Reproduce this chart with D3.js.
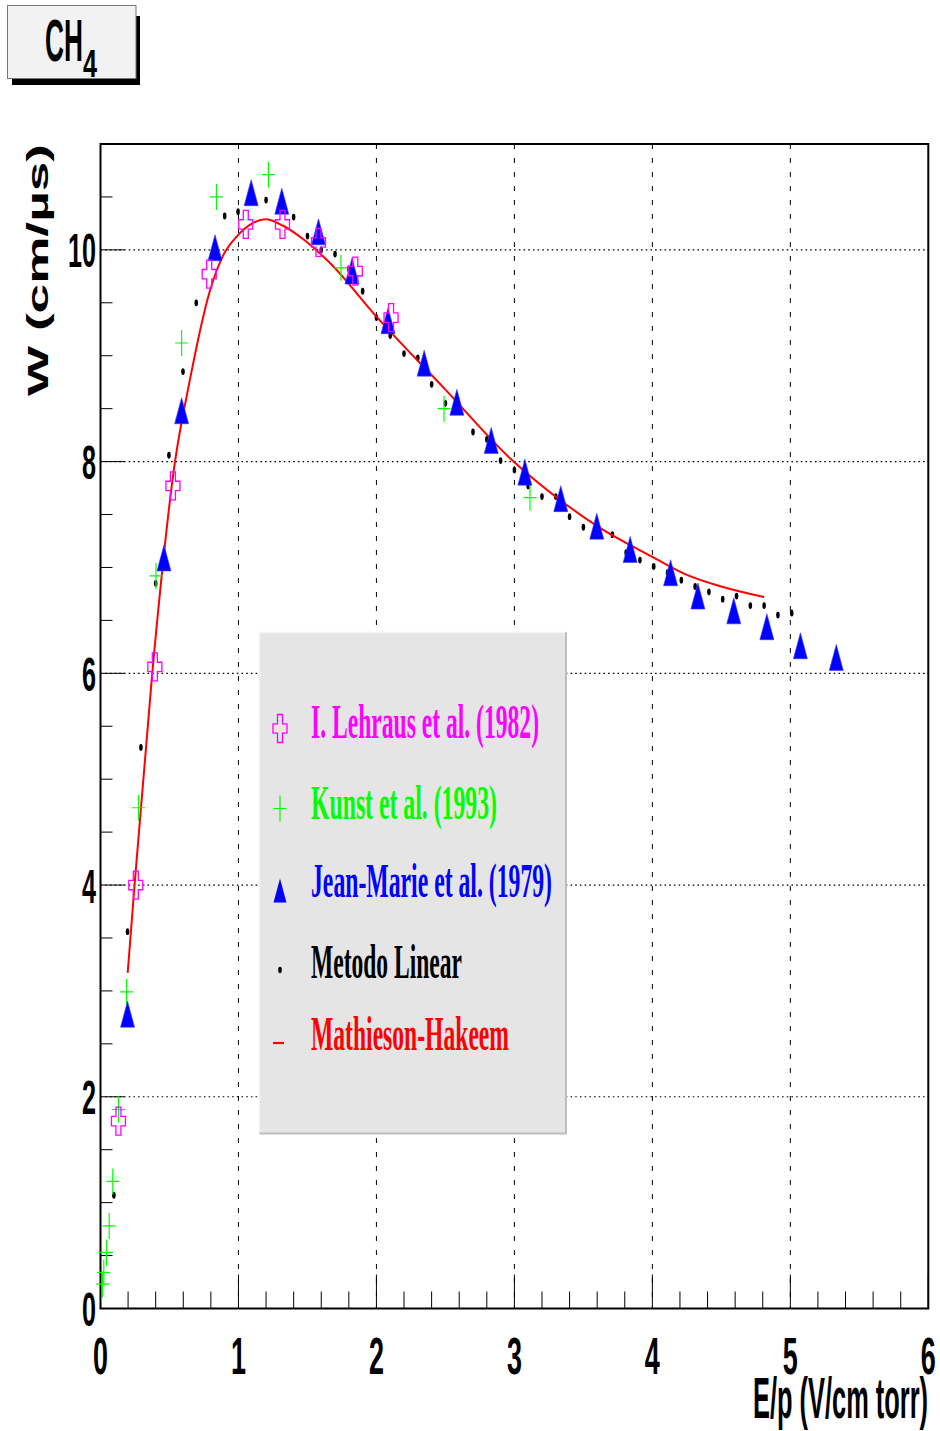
<!DOCTYPE html>
<html><head><meta charset="utf-8">
<script src="https://cdn.jsdelivr.net/npm/d3@7"></script>
<style>body{margin:0;background:#fff}svg{display:block}</style>
</head><body>
<script>
// ---------- data ----------
const lehrausX = [0.13, 0.256, 0.394, 0.525, 0.788, 1.053, 1.319, 1.58, 1.847, 2.106];
const lehrausY = [1.77, 4.00, 6.06, 7.77, 9.77, 10.24, 10.24, 10.07, 9.80, 9.36];

const kunstX = [0.015, 0.024, 0.044, 0.063, 0.089, 0.13, 0.189, 0.276, 0.402, 0.588, 0.84, 1.217, 1.743, 2.49, 3.113];
const kunstY = [0.23, 0.34, 0.53, 0.78, 1.20, 1.88, 2.99, 4.73, 6.92, 9.12, 10.50, 10.71, 9.83, 8.50, 7.66];

const jeanX = [0.196, 0.46, 0.588, 0.83, 1.092, 1.314, 1.58, 1.823, 2.084, 2.346, 2.583, 2.832, 3.076, 3.336, 3.597, 3.839, 4.132, 4.33, 4.59, 4.83, 5.073, 5.333];
const jeanY = [2.78, 7.09, 8.48, 10.02, 10.54, 10.46, 10.17, 9.80, 9.33, 8.93, 8.56, 8.20, 7.90, 7.65, 7.39, 7.17, 6.95, 6.73, 6.59, 6.44, 6.26, 6.15];

const linearX = [0.097, 0.196, 0.293, 0.40, 0.496, 0.598, 0.694, 0.90, 0.997, 1.20, 1.40, 1.50, 1.60, 1.70, 1.80, 1.90, 2.00, 2.10, 2.20, 2.30, 2.40, 2.50, 2.70, 2.80, 2.90, 3.00, 3.10, 3.20, 3.30, 3.40, 3.50, 3.71, 3.81, 3.91, 4.01, 4.11, 4.21, 4.31, 4.41, 4.51, 4.61, 4.71, 4.81, 4.91, 5.01];
const linearY = [1.07, 3.56, 5.30, 6.85, 8.06, 8.85, 9.50, 10.32, 10.36, 10.47, 10.31, 10.13, 10.00, 9.96, 9.82, 9.61, 9.36, 9.19, 9.02, 8.98, 8.73, 8.55, 8.28, 8.21, 8.01, 7.92, 7.77, 7.67, 7.67, 7.48, 7.38, 7.31, 7.14, 7.07, 7.01, 6.95, 6.88, 6.82, 6.77, 6.70, 6.73, 6.64, 6.64, 6.55, 6.57];

const mhX = [0.197, 0.247, 0.375, 0.54, 0.64, 0.79, 0.89, 0.99, 1.10, 1.20, 1.32, 1.47, 1.66, 2.0, 2.5, 2.97, 3.38, 3.6, 4.0, 4.25, 4.5, 4.81];
const mhY = [3.17, 4.00, 6.00, 8.00, 8.72, 9.60, 9.95, 10.13, 10.25, 10.29, 10.23, 10.10, 9.88, 9.37, 8.68, 8.03, 7.59, 7.39, 7.10, 6.93, 6.82, 6.72];

const xTicks = [0, 1, 2, 3, 4, 5, 6];
const yTicks = [0, 2, 4, 6, 8, 10];
const legendLabels = ["I. Lehraus et al. (1982)", "Kunst et al. (1993)", "Jean-Marie et al. (1979)", "Metodo Linear", "Mathieson-Hakeem"];
const legendColors = ["#ff00ff", "#00ff00", "#0000ff", "#000000", "#ff0000"];

// ---------- layout ----------
const W = 940, H = 1431;
const L = 100.5, R = 928.3, T = 144, B = 1308.5;
const svg = d3.select("body").append("svg").attr("width", W).attr("height", H);
const x = d3.scaleLinear().domain([0, 6]).range([L, R]);
const y = d3.scaleLinear().domain([0, 11]).range([B, T]);

function ctext(g, px, py, str, size, width, opts = {}) {
  return g.append("text")
    .attr("x", px).attr("y", py)
    .attr("font-family", opts.family || "Liberation Sans, Arial, sans-serif")
    .attr("font-weight", "bold")
    .attr("font-size", size)
    .attr("fill", opts.fill || "#000")
    .attr("textLength", width)
    .attr("lengthAdjust", "spacingAndGlyphs")
    .text(str);
}

// grid
const grid = svg.append("g");
grid.selectAll("line.vg").data(x.ticks(6).filter(d => d > 0 && d < 6)).join("line")
  .attr("x1", d => x(d)).attr("x2", d => x(d)).attr("y1", T).attr("y2", B)
  .attr("stroke", "#000").attr("stroke-width", 1).attr("stroke-dasharray", "5,9");
grid.selectAll("line.hg").data(yTicks.filter(d => d > 0)).join("line")
  .attr("x1", L).attr("x2", R).attr("y1", d => y(d)).attr("y2", d => y(d))
  .attr("stroke", "#000").attr("stroke-width", 1.2).attr("stroke-dasharray", "1.6,3.1");

// axes ticks
const ax = svg.append("g");
const xMinor = d3.range(0, 6.001, 0.2).map(v => +v.toFixed(1));
ax.selectAll("line.xt").data(xMinor).join("line")
  .attr("x1", d => x(d)).attr("x2", d => x(d))
  .attr("y1", B).attr("y2", d => Math.abs(d - Math.round(d)) < 1e-6 ? B - 34 : B - 17)
  .attr("stroke", "#000").attr("stroke-width", 1);
const yMinor = d3.range(0, 11.001, 0.5);
ax.selectAll("line.yt").data(yMinor).join("line")
  .attr("y1", d => y(d)).attr("y2", d => y(d))
  .attr("x1", L).attr("x2", d => (d % 2 === 0) ? L + 24 : L + 12)
  .attr("stroke", "#000").attr("stroke-width", 1);

// frame
svg.append("rect").attr("x", L).attr("y", T).attr("width", R - L).attr("height", B - T)
  .attr("fill", "none").attr("stroke", "#000").attr("stroke-width", 2);

// tick labels
yTicks.forEach(v => {
  const s = String(v);
  const w = s.length * 14;
  ctext(ax, 96 - w, y(v) + 17.5, s, 49, w);
});
xTicks.forEach(v => {
  const s = String(v);
  const w = s.length * 15;
  ctext(ax, x(v) - w / 2, 1374, s, 51, w);
});

// axis titles
ctext(svg, 753, 1418, "E/p (V/cm torr)", 57, 175);
const yt = svg.append("g").attr("transform", "translate(48,396) rotate(-90)");
ctext(yt, 0, 0, "W (cm/\u00b5s)", 29, 252);

// ---------- series ----------
const data = {
  lehraus: lehrausX.map((v, i) => [v, lehrausY[i]]),
  kunst: kunstX.map((v, i) => [v, kunstY[i]]),
  jean: jeanX.map((v, i) => [v, jeanY[i]]),
  linear: linearX.map((v, i) => [v, linearY[i]]),
  mh: mhX.map((v, i) => [v, mhY[i]])
};

const crossPath = (w, h, tx, ty) =>
  `M${-tx},${-h}H${tx}V${-ty}H${w}V${ty}H${tx}V${h}H${-tx}V${ty}H${-w}V${-ty}H${-tx}Z`;
const openCross = crossPath(7, 14, 2.5, 4.7);
const plusPath = "M-6.5,0H6.5M0,-13V13";
const triPath = "M0,-13L7,13L-7,13Z";

const gm = svg.append("g");
// Metodo Linear dots
gm.selectAll("ellipse.lin").data(data.linear).join("ellipse")
  .attr("cx", d => x(d[0])).attr("cy", d => y(d[1]))
  .attr("rx", 1.8).attr("ry", 3.4).attr("fill", "#000");
// red curve
gm.append("path").datum(data.mh)
  .attr("d", d3.line().x(d => x(d[0])).y(d => y(d[1])).curve(d3.curveMonotoneX))
  .attr("fill", "none").attr("stroke", "#ff0000").attr("stroke-width", 2);
// Kunst
gm.selectAll("path.k").data(data.kunst).join("path")
  .attr("transform", d => `translate(${x(d[0])},${y(d[1])})`)
  .attr("d", plusPath).attr("stroke", "#00ff00").attr("stroke-width", 1.2).attr("fill", "none");
// Jean-Marie
gm.selectAll("path.j").data(data.jean).join("path")
  .attr("transform", d => `translate(${x(d[0])},${y(d[1])})`)
  .attr("d", triPath).attr("fill", "#0000ff").attr("stroke", "#3a3aff").attr("stroke-width", 0.6);
// Lehraus
gm.selectAll("path.l").data(data.lehraus).join("path")
  .attr("transform", d => `translate(${x(d[0])},${y(d[1])})`)
  .attr("d", openCross).attr("fill", "none").attr("stroke", "#ff00ff").attr("stroke-width", 1.3);

// ---------- legend ----------
const lg = svg.append("g");
lg.append("rect").attr("x", 259.5).attr("y", 632).attr("width", 306.5).attr("height", 501)
  .attr("fill", "#e5e5e5");
lg.append("path").attr("d", "M259.5,1133.5V632.5H566")
  .attr("stroke", "#f4f4f4").attr("stroke-width", 1.5).attr("fill", "none");
lg.append("path").attr("d", "M566,632.5V1133.5H259.5")
  .attr("stroke", "#bdbdbd").attr("stroke-width", 2).attr("fill", "none");

const baselines = [738.3, 819, 896.7, 978.3, 1050];
const widths = [228, 186, 241, 151, 198];
legendLabels.forEach((s, i) => {
  ctext(lg, 311, baselines[i], s, 48, widths[i],
    { family: "Liberation Serif, Times New Roman, serif", fill: legendColors[i] });
});
const mx = 280;
lg.append("path").attr("transform", `translate(${mx},${728.5})`).attr("d", openCross)
  .attr("fill", "none").attr("stroke", "#ff00ff").attr("stroke-width", 1.3);
lg.append("path").attr("transform", `translate(${mx},${808.5})`).attr("d", plusPath)
  .attr("fill", "none").attr("stroke", "#00ff00").attr("stroke-width", 1.2);
lg.append("path").attr("transform", `translate(${mx},${890.5}) scale(0.92)`).attr("d", triPath)
  .attr("fill", "#0000ff");
lg.append("ellipse").attr("cx", mx).attr("cy", 970).attr("rx", 1.8).attr("ry", 3.2).attr("fill", "#000");
lg.append("line").attr("x1", 273).attr("x2", 284).attr("y1", 1043).attr("y2", 1043)
  .attr("stroke", "#ff0000").attr("stroke-width", 2.2);

// ---------- title box ----------
const tb = svg.append("g");
tb.append("rect").attr("x", 12).attr("y", 16).attr("width", 128).attr("height", 69).attr("fill", "#000");
tb.append("rect").attr("x", 7.5).attr("y", 5.5).attr("width", 128.5).attr("height", 73)
  .attr("fill", "#f2f2f2").attr("stroke", "#777").attr("stroke-width", 1);
ctext(tb, 45, 60.7, "CH", 59, 38);
ctext(tb, 83, 77, "4", 38, 14);
</script>
</body></html>
